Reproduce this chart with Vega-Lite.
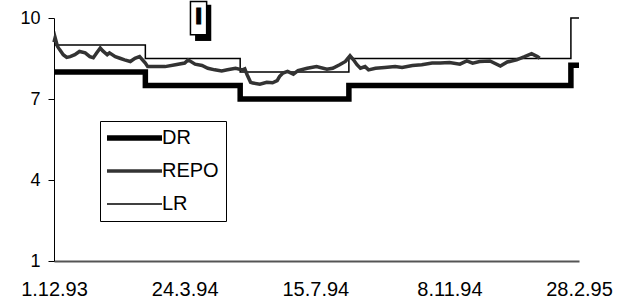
{
  "$schema": "https://vega.github.io/schema/vega-lite/v6.json",
  "autosize": "none",
  "padding": {"left": 54, "top": 18, "right": 48, "bottom": 43},
  "width": 525,
  "height": 243,
  "background": "white",
  "config": {"view": {"stroke": null}, "font": "Liberation Sans"},
  "datasets": {
    "steps": [
      {"series": "DR", "date": "1993-12-01", "value": 8.0},
      {"series": "DR", "date": "1994-02-18", "value": 7.5},
      {"series": "DR", "date": "1994-05-11", "value": 7.0},
      {"series": "DR", "date": "1994-08-13", "value": 7.5},
      {"series": "DR", "date": "1995-02-21", "value": 8.25},
      {"series": "DR", "date": "1995-02-28", "value": 8.25},
      {"series": "LR", "date": "1993-12-01", "value": 9.0},
      {"series": "LR", "date": "1994-02-18", "value": 8.5},
      {"series": "LR", "date": "1994-05-11", "value": 8.0},
      {"series": "LR", "date": "1994-08-13", "value": 8.5},
      {"series": "LR", "date": "1995-02-21", "value": 10.0},
      {"series": "LR", "date": "1995-02-28", "value": 10.0}
    ],
    "repo": [
      {"series": "REPO", "date": "1993-12-01", "value": 9.1},
      {"series": "REPO", "date": "1993-12-02", "value": 9.27},
      {"series": "REPO", "date": "1993-12-04", "value": 8.95},
      {"series": "REPO", "date": "1993-12-06", "value": 8.82},
      {"series": "REPO", "date": "1993-12-09", "value": 8.64},
      {"series": "REPO", "date": "1993-12-12", "value": 8.54},
      {"series": "REPO", "date": "1993-12-15", "value": 8.57},
      {"series": "REPO", "date": "1993-12-19", "value": 8.64},
      {"series": "REPO", "date": "1993-12-23", "value": 8.76},
      {"series": "REPO", "date": "1993-12-28", "value": 8.71},
      {"series": "REPO", "date": "1994-01-01", "value": 8.57},
      {"series": "REPO", "date": "1994-01-04", "value": 8.53},
      {"series": "REPO", "date": "1994-01-07", "value": 8.71},
      {"series": "REPO", "date": "1994-01-10", "value": 8.89},
      {"series": "REPO", "date": "1994-01-12", "value": 8.79},
      {"series": "REPO", "date": "1994-01-16", "value": 8.64},
      {"series": "REPO", "date": "1994-01-18", "value": 8.71},
      {"series": "REPO", "date": "1994-01-23", "value": 8.57},
      {"series": "REPO", "date": "1994-01-27", "value": 8.51},
      {"series": "REPO", "date": "1994-01-31", "value": 8.45},
      {"series": "REPO", "date": "1994-02-05", "value": 8.39},
      {"series": "REPO", "date": "1994-02-09", "value": 8.51},
      {"series": "REPO", "date": "1994-02-13", "value": 8.57},
      {"series": "REPO", "date": "1994-02-18", "value": 8.33},
      {"series": "REPO", "date": "1994-02-20", "value": 8.2},
      {"series": "REPO", "date": "1994-02-26", "value": 8.2},
      {"series": "REPO", "date": "1994-03-07", "value": 8.2},
      {"series": "REPO", "date": "1994-03-16", "value": 8.27},
      {"series": "REPO", "date": "1994-03-24", "value": 8.33},
      {"series": "REPO", "date": "1994-03-27", "value": 8.45},
      {"series": "REPO", "date": "1994-04-02", "value": 8.29},
      {"series": "REPO", "date": "1994-04-08", "value": 8.24},
      {"series": "REPO", "date": "1994-04-13", "value": 8.14},
      {"series": "REPO", "date": "1994-04-19", "value": 8.08},
      {"series": "REPO", "date": "1994-04-25", "value": 8.04},
      {"series": "REPO", "date": "1994-04-30", "value": 8.08},
      {"series": "REPO", "date": "1994-05-07", "value": 8.14},
      {"series": "REPO", "date": "1994-05-13", "value": 8.08},
      {"series": "REPO", "date": "1994-05-15", "value": 8.12},
      {"series": "REPO", "date": "1994-05-17", "value": 7.9},
      {"series": "REPO", "date": "1994-05-20", "value": 7.62},
      {"series": "REPO", "date": "1994-05-22", "value": 7.59},
      {"series": "REPO", "date": "1994-05-28", "value": 7.55},
      {"series": "REPO", "date": "1994-06-03", "value": 7.62},
      {"series": "REPO", "date": "1994-06-08", "value": 7.6},
      {"series": "REPO", "date": "1994-06-12", "value": 7.68},
      {"series": "REPO", "date": "1994-06-14", "value": 7.83},
      {"series": "REPO", "date": "1994-06-17", "value": 7.96},
      {"series": "REPO", "date": "1994-06-21", "value": 8.02},
      {"series": "REPO", "date": "1994-06-26", "value": 7.92},
      {"series": "REPO", "date": "1994-06-30", "value": 8.05},
      {"series": "REPO", "date": "1994-07-08", "value": 8.14},
      {"series": "REPO", "date": "1994-07-16", "value": 8.2},
      {"series": "REPO", "date": "1994-07-25", "value": 8.1},
      {"series": "REPO", "date": "1994-07-30", "value": 8.14},
      {"series": "REPO", "date": "1994-08-05", "value": 8.27},
      {"series": "REPO", "date": "1994-08-10", "value": 8.39},
      {"series": "REPO", "date": "1994-08-14", "value": 8.6},
      {"series": "REPO", "date": "1994-08-17", "value": 8.45},
      {"series": "REPO", "date": "1994-08-20", "value": 8.27},
      {"series": "REPO", "date": "1994-08-23", "value": 8.14},
      {"series": "REPO", "date": "1994-08-27", "value": 8.2},
      {"series": "REPO", "date": "1994-08-30", "value": 8.08},
      {"series": "REPO", "date": "1994-09-05", "value": 8.14},
      {"series": "REPO", "date": "1994-09-13", "value": 8.17},
      {"series": "REPO", "date": "1994-09-22", "value": 8.2},
      {"series": "REPO", "date": "1994-09-28", "value": 8.17},
      {"series": "REPO", "date": "1994-10-07", "value": 8.24},
      {"series": "REPO", "date": "1994-10-15", "value": 8.27},
      {"series": "REPO", "date": "1994-10-24", "value": 8.33},
      {"series": "REPO", "date": "1994-10-31", "value": 8.33},
      {"series": "REPO", "date": "1994-11-08", "value": 8.35},
      {"series": "REPO", "date": "1994-11-17", "value": 8.29},
      {"series": "REPO", "date": "1994-11-23", "value": 8.41},
      {"series": "REPO", "date": "1994-11-28", "value": 8.33},
      {"series": "REPO", "date": "1994-12-04", "value": 8.39},
      {"series": "REPO", "date": "1994-12-13", "value": 8.41},
      {"series": "REPO", "date": "1994-12-22", "value": 8.22},
      {"series": "REPO", "date": "1994-12-28", "value": 8.37},
      {"series": "REPO", "date": "1995-01-05", "value": 8.45},
      {"series": "REPO", "date": "1995-01-12", "value": 8.57},
      {"series": "REPO", "date": "1995-01-18", "value": 8.68},
      {"series": "REPO", "date": "1995-01-23", "value": 8.57},
      {"series": "REPO", "date": "1995-01-25", "value": 8.51}
    ],
    "box": [
      {"label": "I", "start": "1994-03-29", "end": "1994-04-12", "top": 10.61, "bottom": 9.38, "shadowStart": "1994-04-02", "shadowEnd": "1994-04-16", "shadowTop": 10.49, "shadowBottom": 9.15, "mid": "1994-04-05", "level": 10.0}
    ]
  },
  "layer": [
    {
      "data": {"name": "steps"},
      "mark": {"type": "line", "interpolate": "step-after"},
      "encoding": {
        "x": {
          "field": "date", "type": "temporal", "title": null,
          "scale": {"type": "utc", "nice": false, "domain": [754704000000, 793929600000]},
          "axis": {
            "values": [754704000000, 764467200000, 774230400000, 784252800000, 793929600000],
            "labelExpr": "utcdate(datum.value) + '.' + (utcmonth(datum.value) + 1) + '.' + (utcyear(datum.value) % 100)",
            "ticks": false,
            "grid": false,
            "domainColor": "#555555",
            "domainWidth": 2,
            "labelFontSize": 20,
            "labelColor": "black",
            "labelFont": "Liberation Sans",
            "labelPadding": 18,
            "labelAlign": "center",
            "labelFlush": false,
            "labelOverlap": false
          }
        },
        "y": {
          "field": "value", "type": "quantitative", "title": null,
          "scale": {"domain": [1, 10], "nice": false, "zero": false},
          "axis": {
            "values": [1, 4, 7, 10],
            "tickSize": 6,
            "tickColor": "black",
            "domainColor": "black",
            "grid": false,
            "labelFontSize": 18,
            "labelColor": "black",
            "labelFont": "Liberation Sans",
            "labelPadding": 8,
            "labelFlush": false
          }
        },
        "color": {
          "field": "series", "type": "nominal",
          "scale": {"domain": ["DR", "REPO", "LR"], "range": ["#000000", "#333333", "#000000"]},
          "legend": {
            "title": null,
            "orient": "none",
            "legendX": 46,
            "legendY": 103,
            "symbolType": "stroke",
            "symbolSize": 3025,
            "clipHeight": 20,
            "rowPadding": 13,
            "padding": 7,
            "labelFontSize": 20,
            "labelFont": "Liberation Sans",
            "labelColor": "black",
            "labelOffset": -3,
            "symbolOffset": -3,
            "strokeColor": "black",
            "fillColor": "white",
            "cornerRadius": 0
          }
        },
        "strokeWidth": {
          "field": "series", "type": "nominal",
          "scale": {"type": "point", "padding": 0, "domain": ["DR", "REPO", "LR"], "range": [5.5, 1.5]},
          "legend": null
        }
      }
    },
    {
      "data": {"name": "repo"},
      "mark": {"type": "line"},
      "encoding": {
        "x": {"field": "date", "type": "temporal", "title": null},
        "y": {"field": "value", "type": "quantitative", "title": null},
        "color": {"field": "series", "type": "nominal"},
        "strokeWidth": {"field": "series", "type": "nominal"}
      }
    },
    {
      "data": {"name": "box"},
      "mark": {"type": "rect", "fill": "black"},
      "encoding": {
        "x": {"field": "shadowStart", "type": "temporal", "title": null},
        "x2": {"field": "shadowEnd"},
        "y": {"field": "shadowTop", "type": "quantitative", "title": null},
        "y2": {"field": "shadowBottom"}
      }
    },
    {
      "data": {"name": "box"},
      "mark": {"type": "rect", "fill": "white", "stroke": "black", "strokeWidth": 1.5},
      "encoding": {
        "x": {"field": "start", "type": "temporal", "title": null},
        "x2": {"field": "end"},
        "y": {"field": "top", "type": "quantitative", "title": null},
        "y2": {"field": "bottom"}
      }
    },
    {
      "data": {"name": "box"},
      "mark": {"type": "text", "font": "DejaVu Sans", "fontWeight": "bold", "fontSize": 21, "baseline": "middle", "align": "center", "color": "black", "stroke": "black", "strokeWidth": 1},
      "encoding": {
        "x": {"field": "mid", "type": "temporal", "title": null},
        "y": {"field": "level", "type": "quantitative", "title": null},
        "text": {"field": "label"}
      }
    }
  ]
}
